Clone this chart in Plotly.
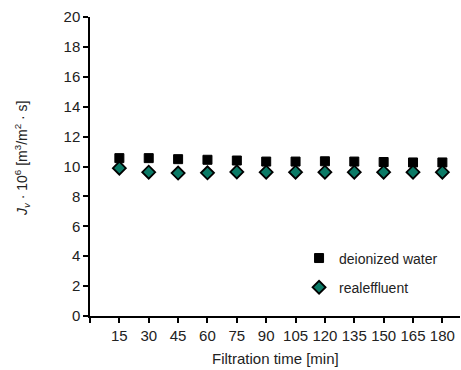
import plotly.graph_objects as go

time_min = [15, 30, 45, 60, 75, 90, 105, 120, 135, 150, 165, 180]
deionized_water = [10.56, 10.56, 10.49, 10.45, 10.40, 10.33, 10.33, 10.35, 10.33, 10.30, 10.27, 10.27]
real_effluent = [9.89, 9.62, 9.56, 9.58, 9.64, 9.62, 9.62, 9.62, 9.62, 9.62, 9.62, 9.62]
x_ticks = [0] + time_min
x_ticklabels = [""] + [str(t) for t in time_min]

font_family = "Liberation Sans, Arial, sans-serif"
text_color = "#222222"

fig = go.Figure()
fig.add_trace(go.Scatter(
    x=time_min, y=deionized_water, mode="markers", name="deionized water",
    legendgroup="a",
    marker=dict(symbol="square", size=9, color="black", line=dict(color="black", width=1)),
))
fig.add_trace(go.Scatter(
    x=time_min, y=real_effluent, mode="markers", name="realeffluent",
    legendgroup="b",
    marker=dict(symbol="diamond", size=10, color="#0b7a66", line=dict(color="black", width=1.8)),
))

fig.update_layout(
    width=461, height=370,
    margin=dict(l=90, r=1, t=17, b=54),
    paper_bgcolor="white", plot_bgcolor="white",
    font=dict(family=font_family, size=15, color=text_color),
    showlegend=True,
    legend=dict(
        x=0.565, y=0.144, xanchor="left", yanchor="middle",
        bgcolor="rgba(0,0,0,0)", font=dict(size=14, color=text_color),
        tracegroupgap=8, itemwidth=30,
    ),
    xaxis=dict(
        range=[0, 189], tickmode="array", tickvals=x_ticks, ticktext=x_ticklabels,
        showgrid=False, zeroline=False, showline=True, linecolor="black", linewidth=2,
        ticks="outside", ticklen=5, tickwidth=2, tickcolor="black",
        tickfont=dict(size=15, color=text_color),
    ),
    yaxis=dict(
        range=[0, 20], dtick=2, tick0=0,
        showgrid=False, zeroline=False, showline=True, linecolor="black", linewidth=1.5,
        ticks="outside", ticklen=5, tickwidth=2, tickcolor="black",
        tickfont=dict(size=15, color=text_color),
    ),
    annotations=[
        dict(text="Filtration time [min]", xref="paper", yref="paper",
             x=0.5, y=-0.1405, xanchor="center", yanchor="middle", showarrow=False,
             font=dict(size=15, color=text_color)),
        dict(text="<i>J<sub>v</sub></i> · 10<sup>6</sup> [m<sup>3</sup>/m<sup>2</sup> · s]",
             xref="paper", yref="paper", x=-0.1838, y=0.528, textangle=-90,
             xanchor="center", yanchor="middle", showarrow=False,
             font=dict(size=14, color=text_color)),
    ],
)

fig.write_html("out.html")
